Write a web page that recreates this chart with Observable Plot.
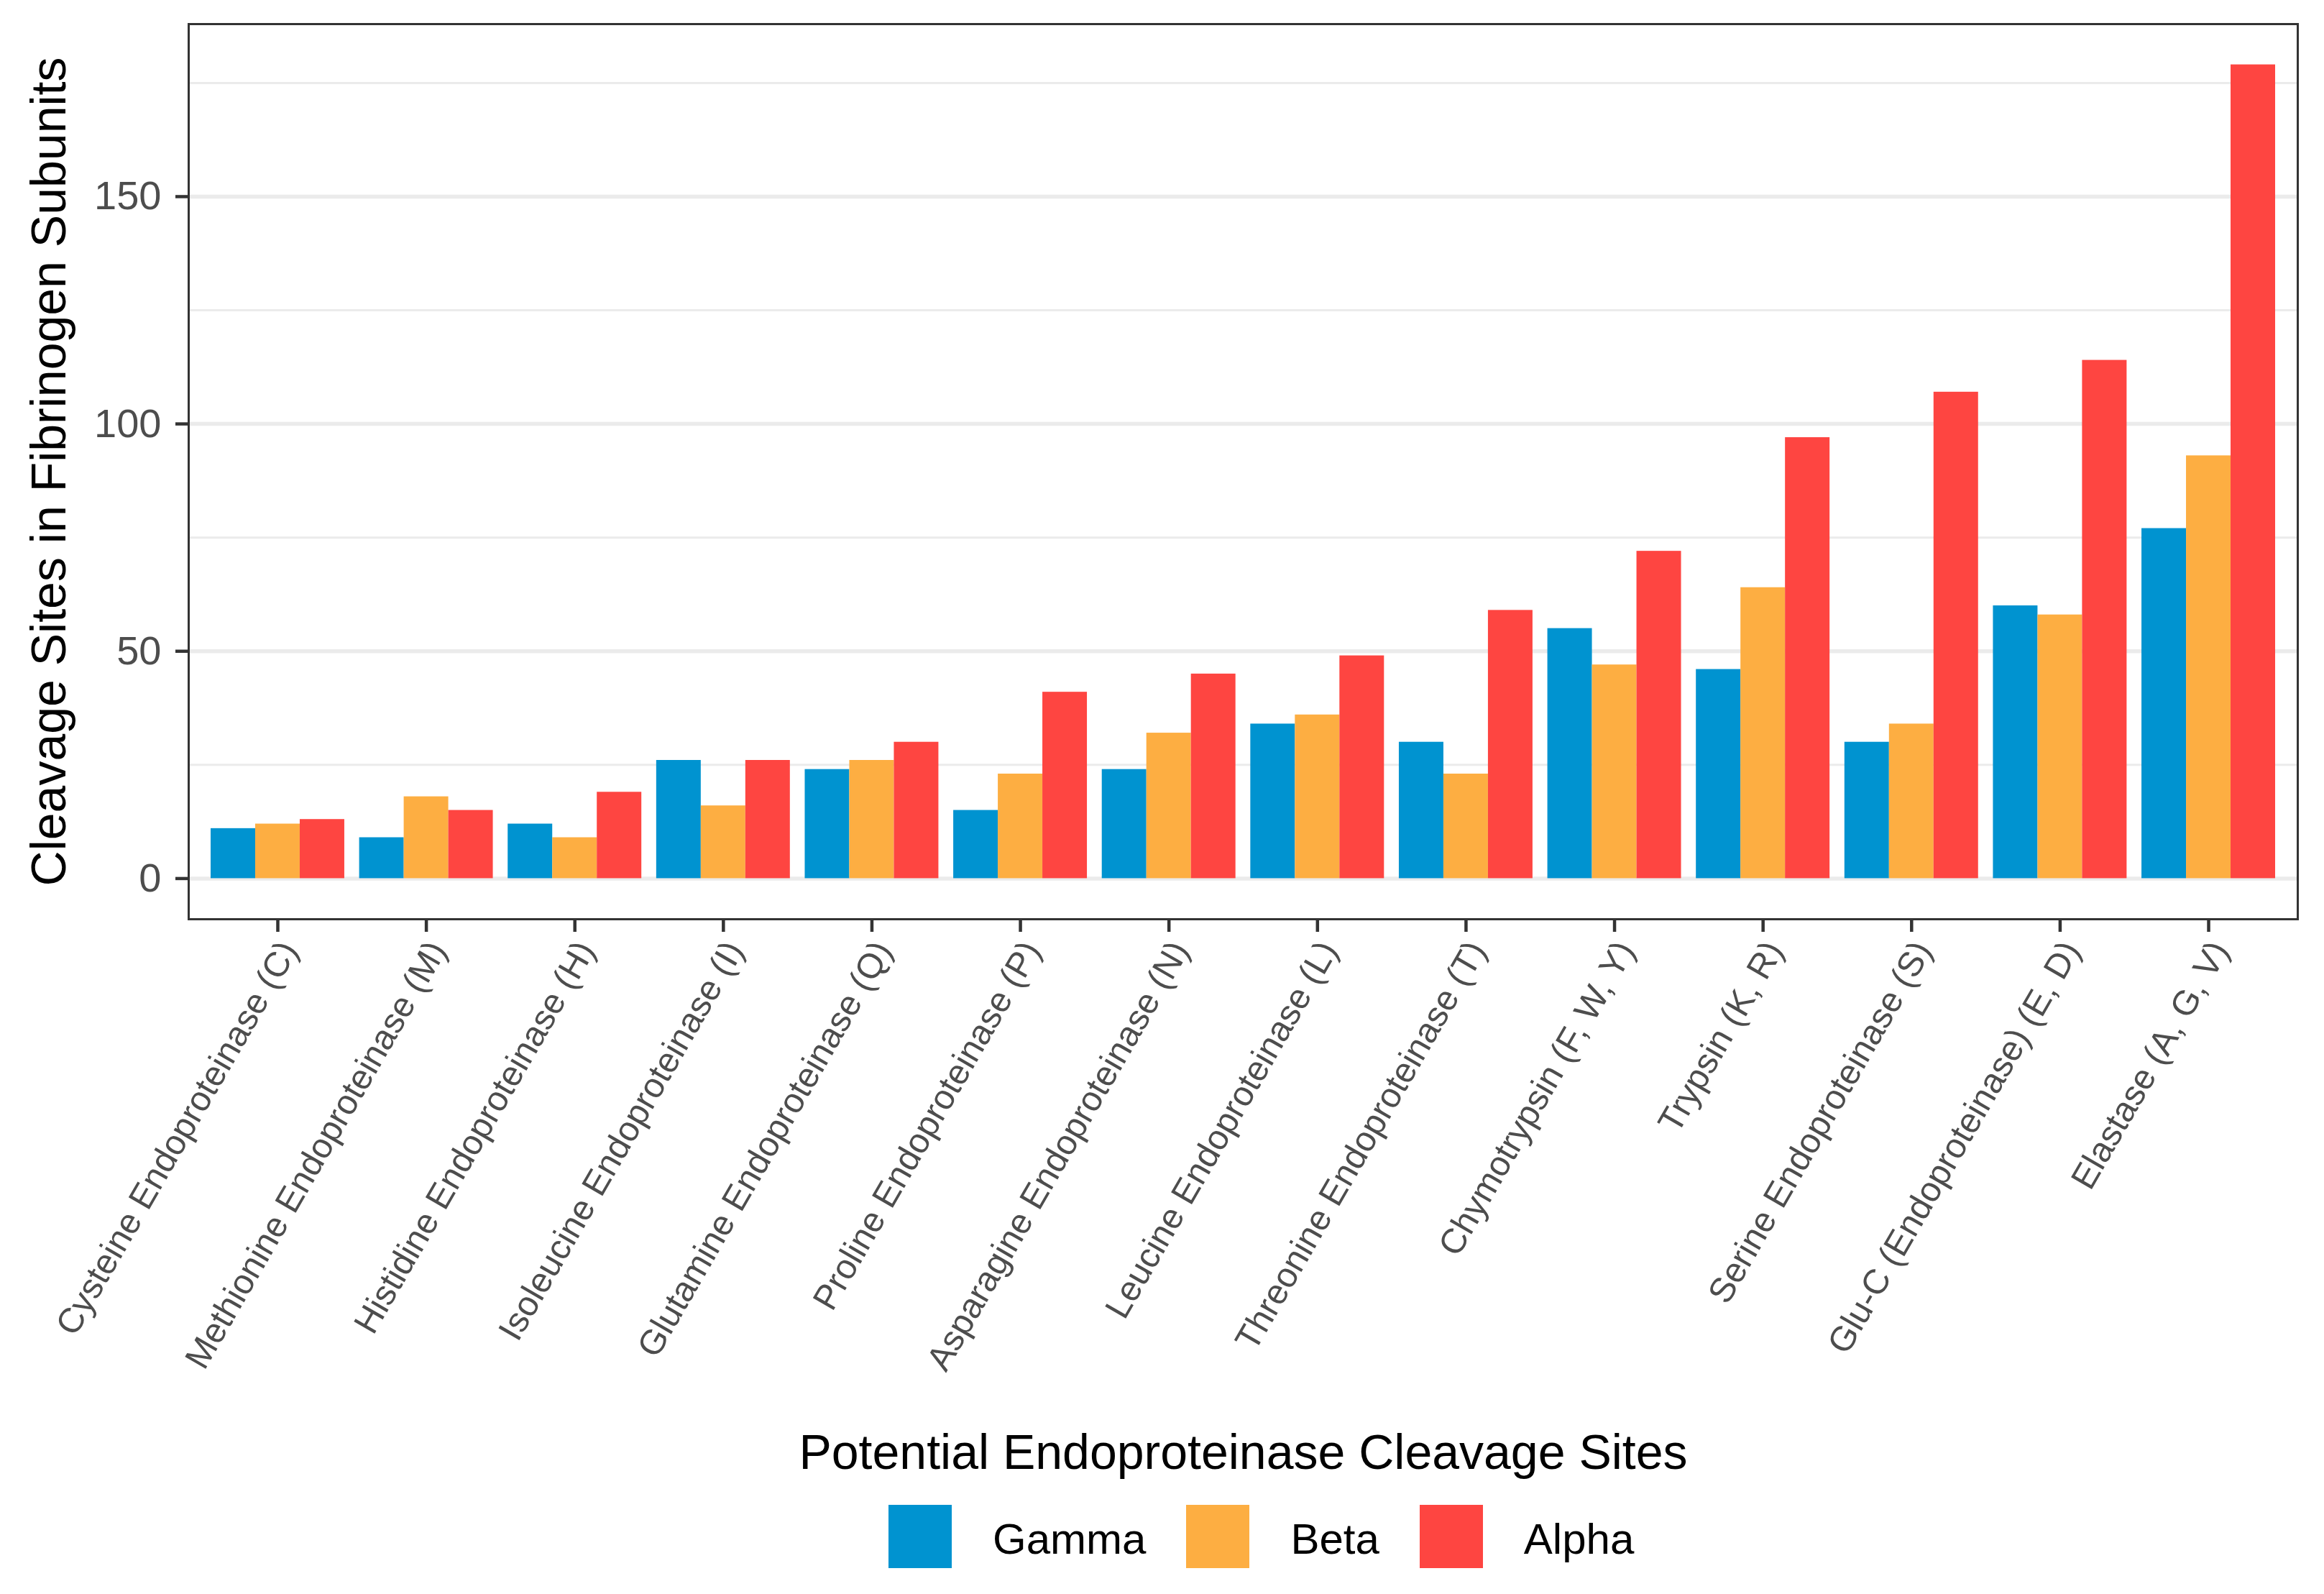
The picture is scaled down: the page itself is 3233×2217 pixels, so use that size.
<!DOCTYPE html>
<html>
<head>
<meta charset="utf-8">
<script src="https://cdn.jsdelivr.net/npm/d3@7"></script>
<script src="https://cdn.jsdelivr.net/npm/@observablehq/plot@0.6"></script>
<style>
  html, body { margin: 0; padding: 0; background: #ffffff; }
  #wrap { position: relative; width: 3233px; height: 2217px; background: #ffffff; font-family: "Liberation Sans", Arial, Helvetica, sans-serif; }
  #legend { position: absolute; left: 1236px; top: 2093px; display: flex; align-items: center; }
  .key { width: 88px; height: 88px; }
  .lab { font-size: 60px; color: #000; margin-left: 57px; margin-right: 56px; padding-top: 6px; }
</style>
</head>
<body>
<div id="wrap"><div id="chart"></div><div id="legend"></div></div>
<script>
// ---- data ----
const categories = [
  "Cysteine Endoproteinase (C)",
  "Methionine Endoproteinase (M)",
  "Histidine Endoproteinase (H)",
  "Isoleucine Endoproteinase (I)",
  "Glutamine Endoproteinase (Q)",
  "Proline Endoproteinase (P)",
  "Asparagine Endoproteinase (N)",
  "Leucine Endoproteinase (L)",
  "Threonine Endoproteinase (T)",
  "Chymotrypsin (F, W, Y)",
  "Trypsin (K, R)",
  "Serine Endoproteinase (S)",
  "Glu-C (Endoproteinase) (E, D)",
  "Elastase (A, G, V)"
];
const gamma = [11, 9, 12, 26, 24, 15, 24, 34, 30, 55, 46, 30, 60, 77];
const beta  = [12, 18, 9, 16, 26, 23, 32, 36, 23, 47, 64, 34, 58, 93];
const alpha = [13, 15, 19, 26, 30, 41, 45, 49, 59, 72, 97, 107, 114, 179];
const seriesNames = ["Gamma", "Beta", "Alpha"];
const seriesColors = ["#0093D0", "#FDAE42", "#FE4541"];
const yTicks = [0, 50, 100, 150];
const yMinorTicks = [25, 75, 125, 175];
const yTitle = "Cleavage Sites in Fibrinogen Subunits";
const xTitle = "Potential Endoproteinase Cleavage Sites";

// ---- table built from the arrays ----
const seriesValues = [gamma, beta, alpha];
const rows = [];
categories.forEach((c, i) => {
  seriesNames.forEach((s, k) => {
    rows.push({category: c, pos: i + 1, k, series: s, value: seriesValues[k][i]});
  });
});
const positions = categories.map((c, i) => i + 1);
const ymax = d3.max(rows, d => d.value);
const pad = ymax * 0.05;

const chart = Plot.plot({
  width: 3233,
  height: 2080,
  marginLeft: 262,
  marginRight: 37,
  marginTop: 33,
  marginBottom: 802,
  style: {fontFamily: "'Liberation Sans', Arial, Helvetica, sans-serif", background: "#ffffff"},
  x: {type: "linear", domain: [0.4, categories.length + 0.6], axis: null},
  y: {domain: [-pad, ymax + pad], axis: null},
  color: {domain: seriesNames, range: seriesColors},
  marks: [
    Plot.ruleY(yMinorTicks, {stroke: "#EBEBEB", strokeWidth: 3}),
    Plot.ruleY(yTicks, {stroke: "#EBEBEB", strokeWidth: 5.5}),
    Plot.rect(rows, {
      x1: d => d.pos - 0.45 + 0.3 * d.k,
      x2: d => d.pos - 0.15 + 0.3 * d.k,
      y1: 0,
      y2: "value",
      fill: "series"
    }),
    Plot.frame({stroke: "#333333", strokeWidth: 3}),
    Plot.axisY({
      ticks: yTicks,
      tickSize: 18,
      tickPadding: 20,
      fontSize: 56,
      stroke: "#333333",
      strokeWidth: 4.5,
      color: "#4D4D4D",
      label: null
    }),
    // tick marks
    Plot.axisX({
      ticks: positions,
      tickFormat: () => "",
      tickSize: 18,
      stroke: "#333333",
      strokeWidth: 4.5,
      label: null
    }),
    // rotated tick labels
    Plot.axisX({
      ticks: positions,
      tickFormat: p => categories[p - 1],
      tickRotate: -60,
      tickSize: 0,
      tickPadding: 35,
      dx: 16,
      fontSize: 48.5,
      color: "#4D4D4D",
      label: null
    }),
    Plot.text([yTitle], {
      frameAnchor: "left",
      textAnchor: "middle",
      rotate: -90,
      dx: -172,
      lineAnchor: "bottom",
      fontSize: 68,
      fill: "#000000"
    }),
    Plot.text([xTitle], {
      frameAnchor: "bottom",
      dy: 764,
      lineAnchor: "bottom",
      fontSize: 68,
      fill: "#000000"
    })
  ]
});
document.getElementById("chart").appendChild(chart);

const legend = document.getElementById("legend");
seriesNames.forEach((s, k) => {
  const key = document.createElement("div");
  key.className = "key";
  key.style.background = seriesColors[k];
  const lab = document.createElement("div");
  lab.className = "lab";
  lab.textContent = s;
  legend.appendChild(key);
  legend.appendChild(lab);
});
</script>
</body>
</html>
